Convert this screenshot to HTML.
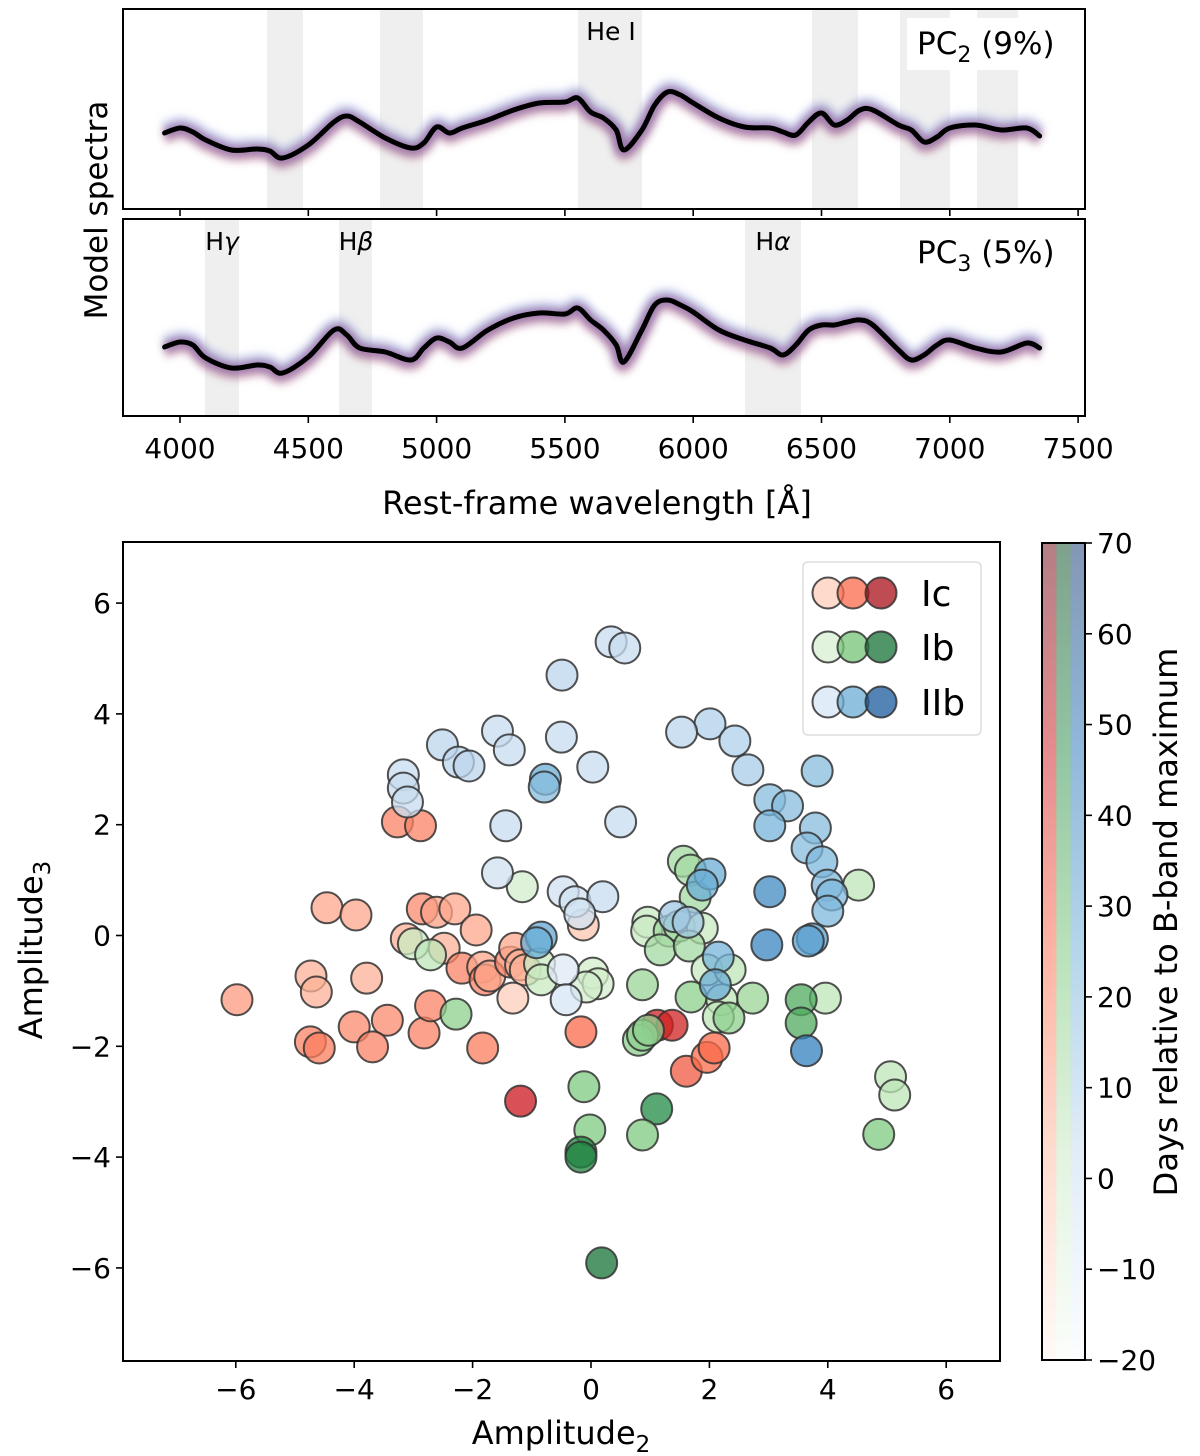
<!DOCTYPE html>
<html><head><meta charset="utf-8">
<style>
html,body{margin:0;padding:0;background:#fff;}
svg{display:block;font-family:"DejaVu Sans","Liberation Sans",sans-serif;}
</style></head>
<body>
<svg id="fig" width="1200" height="1456" viewBox="0 0 1200 1456" xmlns="http://www.w3.org/2000/svg">
<defs>
<filter id="blur6" x="-20%" y="-80%" width="140%" height="260%"><feGaussianBlur stdDeviation="4"/></filter>
<linearGradient id="gR" x1="0" y1="1" x2="0" y2="0"><stop offset="0" stop-color="#fff5f0"/><stop offset="0.25" stop-color="#fcbba1"/><stop offset="0.5" stop-color="#fb6a4a"/><stop offset="0.75" stop-color="#cb181d"/><stop offset="1" stop-color="#67000d"/></linearGradient>
<linearGradient id="gG" x1="0" y1="1" x2="0" y2="0"><stop offset="0" stop-color="#f7fcf5"/><stop offset="0.25" stop-color="#c7e9c0"/><stop offset="0.5" stop-color="#74c476"/><stop offset="0.75" stop-color="#238b45"/><stop offset="1" stop-color="#00441b"/></linearGradient>
<linearGradient id="gB" x1="0" y1="1" x2="0" y2="0"><stop offset="0" stop-color="#f7fbff"/><stop offset="0.25" stop-color="#c6dbef"/><stop offset="0.5" stop-color="#6baed6"/><stop offset="0.75" stop-color="#2171b5"/><stop offset="1" stop-color="#08306b"/></linearGradient>
</defs>
<g id="spec"></g>
<g id="scatter"></g>
</svg>
<script>
// ---------- spectra data ----------
const wave = [3940,4000,4050,4100,4200,4300,4350,4400,4500,4600,4650,4700,4800,4900,4950,5000,5050,5100,5200,5300,5400,5500,5550,5600,5650,5700,5730,5800,5850,5900,5950,6000,6100,6200,6300,6350,6400,6450,6500,6550,6600,6650,6700,6800,6850,6900,6950,7000,7100,7200,7300,7350];
const fluxPC2 = [0,5,1,-7,-17,-16,-18,-25,-12,11,17,11,-5,-15,-10,6,0,5,13,23,30,31,35,21,15,3,-17,3,28,41,38,30,15,6,5,1,-2,11,20,8,13,23,23,8,3,-9,-4,5,8,3,5,-3];
const fluxPC3 = [0,5,2,-11,-21,-18,-20,-26,-10,17,12,-1,-5,-13,-1,9,5,-1,17,29,34,33,39,27,17,2,-15,17,42,47,42,35,17,7,-1,-8,2,17,22,22,25,27,22,-3,-13,-8,2,7,-1,-5,4,-1];
const bandsPC2 = [[4339,4479],[4779,4947],[5551,5800],[6463,6642],[6806,7001],[7106,7266]];
const bandsPC3 = [[4097,4230],[4620,4748],[6202,6420]];
const xTicks = [4000,4500,5000,5500,6000,6500,7000,7500];

// ---------- scatter data ----------
const ampX = {
 IIb:[0.34,0.57,-0.49,2.01,1.53,2.43,-1.58,-1.38,-2.51,-2.24,-2.06,-0.50,0.03,2.65,3.82,-0.77,-0.79,-3.17,-3.17,-3.10,3.02,3.32,3.02,3.79,0.50,-1.44,3.65,3.90,2.01,1.88,3.99,4.07,4.00,3.02,-1.58,-0.47,-0.27,0.20,-0.19,1.41,1.64,-0.84,-0.92,2.97,3.74,3.67,2.15,2.10,-0.47,3.64,-0.42],
 Ib:[-1.16,1.56,1.68,1.76,4.52,0.96,0.94,1.32,1.49,1.88,1.17,1.66,-3.00,-2.71,-0.87,0.03,0.12,-0.08,1.96,2.35,0.87,1.69,2.73,2.21,2.15,2.33,-2.28,-0.84,3.96,3.55,3.55,0.80,0.87,0.97,-0.12,1.11,0.87,-0.02,-0.17,-0.17,0.18,5.06,5.13,4.86],
 Ic:[-5.98,-4.74,-4.59,-4.73,-4.64,-4.46,-3.97,-3.79,-4.00,-3.44,-3.69,-3.27,-2.88,-3.12,-2.85,-2.61,-2.30,-2.82,-2.71,-1.94,-2.48,-2.18,-1.83,-1.79,-1.83,-1.71,-1.36,-1.29,-1.19,-1.11,-1.32,-1.19,-0.13,-0.17,1.12,1.37,1.61,1.96,2.08]
};
const ampY = {
 IIb:[5.30,5.19,4.70,3.82,3.67,3.51,3.69,3.35,3.44,3.13,3.06,3.58,3.04,2.99,2.97,2.82,2.68,2.90,2.66,2.41,2.45,2.34,1.98,1.94,2.05,1.98,1.58,1.33,1.11,0.91,0.91,0.73,0.44,0.79,1.13,0.79,0.61,0.70,0.39,0.34,0.24,-0.03,-0.13,-0.17,-0.06,-0.10,-0.39,-0.89,-0.62,-2.08,-1.16],
 Ib:[0.88,1.34,1.18,0.69,0.91,0.24,0.08,0.08,0.17,0.13,-0.26,-0.19,-0.15,-0.35,-0.51,-0.68,-0.87,-0.93,-0.62,-0.62,-0.89,-1.11,-1.13,-1.16,-1.47,-1.49,-1.42,-0.80,-1.13,-1.16,-1.58,-1.89,-1.80,-1.71,-2.73,-3.13,-3.60,-3.51,-3.91,-4.00,-5.91,-2.55,-2.88,-3.59],
 Ic:[-1.16,-1.92,-2.03,-0.73,-1.02,0.50,0.37,-0.77,-1.65,-1.53,-2.01,2.05,1.98,-0.06,0.48,0.42,0.48,-1.76,-1.27,0.10,-0.23,-0.59,-0.57,-0.80,-2.03,-0.73,-0.48,-0.23,-0.53,-0.62,-1.13,-2.99,0.19,-1.74,-1.62,-1.62,-2.45,-2.20,-2.03]
};
const days = {
 IIb:[2,2,5,8,5,8,2,2,5,5,5,2,2,10,18,25,18,2,2,2,18,18,22,18,2,2,18,20,25,25,20,20,20,38,-2,-2,-2,2,-2,12,12,28,25,40,30,30,22,25,-8,42,-5],
 Ib:[-2,12,12,12,5,2,2,12,12,2,12,12,2,5,2,-2,-2,-2,2,5,15,18,15,5,5,18,18,2,5,35,35,18,18,18,22,48,22,22,50,50,55,5,5,22],
 Ic:[12,18,20,5,5,8,8,5,16,16,18,18,18,5,16,10,8,18,18,8,5,18,8,18,20,8,16,8,5,5,-5,48,-2,25,45,45,30,25,25]
};
const ampTicks = [-6,-4,-2,0,2,4,6];
const cbTicks = [-20,-10,0,10,20,30,40,50,60,70];

const NS="http://www.w3.org/2000/svg";
function mk(tag, attrs, parent){const e=document.createElementNS(NS,tag);for(const k in attrs)e.setAttribute(k,attrs[k]);parent.appendChild(e);return e;}
function smooth(pts){let d='M'+pts[0][0].toFixed(1)+','+pts[0][1].toFixed(1);for(let i=0;i<pts.length-1;i++){const p0=pts[Math.max(0,i-1)],p1=pts[i],p2=pts[i+1],p3=pts[Math.min(pts.length-1,i+2)];const c1=[p1[0]+(p2[0]-p0[0])/6,p1[1]+(p2[1]-p0[1])/6],c2=[p2[0]-(p3[0]-p1[0])/6,p2[1]-(p3[1]-p1[1])/6];d+=' C'+c1.map(v=>v.toFixed(1)).join(',')+' '+c2.map(v=>v.toFixed(1)).join(',')+' '+p2[0].toFixed(1)+','+p2[1].toFixed(1);}return d;}

// ---------- spectra ----------
const spec=document.getElementById('spec');
const PX0=123, PX1=1085;
const xw = w => 180 + (w-4000)*(128.3/500);
const panels=[{top:9,bot:209,base:133,flux:fluxPC2,bands:bandsPC2,name:'pc2'},{top:219,bot:416,base:347,flux:fluxPC3,bands:bandsPC3,name:'pc3'}];
panels.forEach(p=>{
  const g=mk('g',{},spec);
  
  
  p.bands.forEach(b=>{
    const r=mk('rect',{x:xw(b[0]),y:p.top,width:xw(b[1])-xw(b[0]),height:p.bot-p.top,fill:'#efefef'},g);
    
    
  });
  const yf=f=>p.base-f;
  const d=smooth(wave.map((w,i)=>[xw(w),yf(p.flux[i])]));
  const h0=mk('path',{d:d,fill:'none',stroke:'#a0b4e0','stroke-width':16,'stroke-opacity':0.45,filter:'url(#blur6)',transform:'translate(0,-4)'},g);
  
  
  const h2=mk('path',{d:d,fill:'none',stroke:'#a05070','stroke-width':14,'stroke-opacity':0.45,filter:'url(#blur6)',transform:'translate(0,4)'},g);
  
  
  const h1=mk('path',{d:d,fill:'none',stroke:'#7a4aa0','stroke-width':12,'stroke-opacity':0.45,filter:'url(#blur6)'},g);
  
  
  const ln=mk('path',{d:d,fill:'none',stroke:'#000','stroke-width':5,'stroke-linejoin':'round','stroke-linecap':'round'},g);
  
  
  const fr=mk('rect',{x:PX0,y:p.top,width:PX1-PX0,height:p.bot-p.top,fill:'none',stroke:'#000','stroke-width':2},g);
  
  
  xTicks.forEach(t=>{
    const tk=mk('line',{x1:xw(t),x2:xw(t),y1:p.bot,y2:p.bot+7,stroke:'#000','stroke-width':1.6},g);
    
    
  });
});
xTicks.forEach(t=>{
  const tx=mk('text',{x:xw(t),y:458,'font-size':28,'text-anchor':'middle'},spec);
  tx.textContent=t;
  
  
});
</script>
<script>
(function(){
const s=document.getElementById('spec');
s.insertAdjacentHTML('beforeend',`
<rect x="907" y="18" width="163" height="52" fill="#fff"/>
<text x="917" y="54" font-size="31">PC<tspan font-size="22" dy="8">2</tspan><tspan dy="-8"> (9%)</tspan></text>
<text x="917" y="263" font-size="31">PC<tspan font-size="22" dy="8">3</tspan><tspan dy="-8"> (5%)</tspan></text>
<text x="611" y="40" font-size="25" text-anchor="middle">He I</text>
<text x="222" y="250" font-size="25" text-anchor="middle">H<tspan font-style="italic">γ</tspan></text>
<text x="356" y="250" font-size="25" text-anchor="middle">H<tspan font-style="italic">β</tspan></text>
<text x="773" y="250" font-size="25" text-anchor="middle">H<tspan font-style="italic">α</tspan></text>
<text transform="translate(107,210) rotate(-90)" font-size="31" text-anchor="middle">Model spectra</text>
<text x="597" y="514" font-size="32" text-anchor="middle">Rest-frame wavelength [Å]</text>
`);
})();
</script>
<script>
(function(){
const sc=document.getElementById('scatter');
const L=123,R=1000,T=542,B=1361;
const xs=v=>591+v*59.2, ys=v=>935.5-v*55.4;
const cmaps={Ic:['#fff5f0','#fcbba1','#fb6a4a','#cb181d','#67000d'],Ib:['#f7fcf5','#c7e9c0','#74c476','#238b45','#00441b'],IIb:['#f7fbff','#c6dbef','#6baed6','#2171b5','#08306b']};
function hex(h){return [1,3,5].map(i=>parseInt(h.substr(i,2),16));}
function cm(type,d){let t=Math.max(0,Math.min(1,(d+20)/90))*4;const i=Math.min(3,Math.floor(t)),f=t-i;const a=hex(cmaps[type][i]),b=hex(cmaps[type][i+1]);return 'rgb('+a.map((v,k)=>Math.round(v+(b[k]-v)*f)).join(',')+')';}
const frame=mk('rect',{x:L,y:T,width:R-L,height:B-T,fill:'none',stroke:'#000','stroke-width':2},sc);


['Ic','Ib','IIb'].forEach(type=>{
  ampX[type].forEach((x,i)=>{
    const pt=mk('circle',{cx:xs(x),cy:ys(ampY[type][i]),r:15.5,fill:cm(type,days[type][i]),'fill-opacity':0.75,stroke:'#333','stroke-opacity':0.85,'stroke-width':2},sc);
    
    
  });
});
ampTicks.forEach(t=>{
  const a=mk('line',{x1:xs(t),x2:xs(t),y1:B,y2:B+7,stroke:'#000','stroke-width':1.6},sc);
  
  
  const tx=mk('text',{x:xs(t),y:B+38,'font-size':28,'text-anchor':'middle'},sc);
  tx.textContent=(t<0?'\u2212':'')+Math.abs(t);
  
  
  const b=mk('line',{x1:L-7,x2:L,y1:ys(t),y2:ys(t),stroke:'#000','stroke-width':1.6},sc);
  
  
  const ty=mk('text',{x:L-12,y:ys(t)+10,'font-size':28,'text-anchor':'end'},sc);
  ty.textContent=(t<0?'\u2212':'')+Math.abs(t);
  
  
});
const CL=1042,CR=1085;
const cy=d=>1360-(d+20)*(817/90);
[['gR',CL],['gG',CL+14.3],['gB',CL+28.6]].forEach(s=>{
  const r=mk('rect',{x:s[1],y:543,width:14.4,height:817,fill:'url(#'+s[0]+')','fill-opacity':0.5},sc);
  
  
});
const cf=mk('rect',{x:CL,y:543,width:CR-CL,height:817,fill:'none',stroke:'#000','stroke-width':2},sc);


cbTicks.forEach(t=>{
  const a=mk('line',{x1:CR,x2:CR+7,y1:cy(t),y2:cy(t),stroke:'#000','stroke-width':1.6},sc);
  
  
  const tx=mk('text',{x:CR+12,y:cy(t)+10,'font-size':28},sc);
  tx.textContent=(t<0?'\u2212':'')+Math.abs(t);
  
  
});
const lg=mk('g',{},sc);


const lb=mk('rect',{x:803,y:562,width:178,height:173,rx:5,fill:'#fff','fill-opacity':0.8,stroke:'#ddd','stroke-width':1.5},lg);


[['Ic',593],['Ib',647],['IIb',702]].forEach(e=>{
  [[828,-5],[853,25],[881,55]].forEach(c=>{
    const p=mk('circle',{cx:c[0],cy:e[1],r:15.5,fill:cm(e[0],c[1]),'fill-opacity':0.75,stroke:'#333','stroke-opacity':0.85,'stroke-width':2},lg);
    
    
  });
  const t=mk('text',{x:921,y:e[1]+13,'font-size':36},lg);
  t.textContent=e[0];
  
  
});
sc.insertAdjacentHTML('beforeend',`
<text x="561" y="1444" font-size="32" text-anchor="middle">Amplitude<tspan font-size="23" dy="8">2</tspan></text>
<text transform="translate(42,950) rotate(-90)" font-size="32" text-anchor="middle">Amplitude<tspan font-size="23" dy="8">3</tspan></text>
<text transform="translate(1177,922) rotate(-90)" font-size="32" text-anchor="middle">Days relative to B-band maximum</text>
`);
})();
</script>
</body></html>
